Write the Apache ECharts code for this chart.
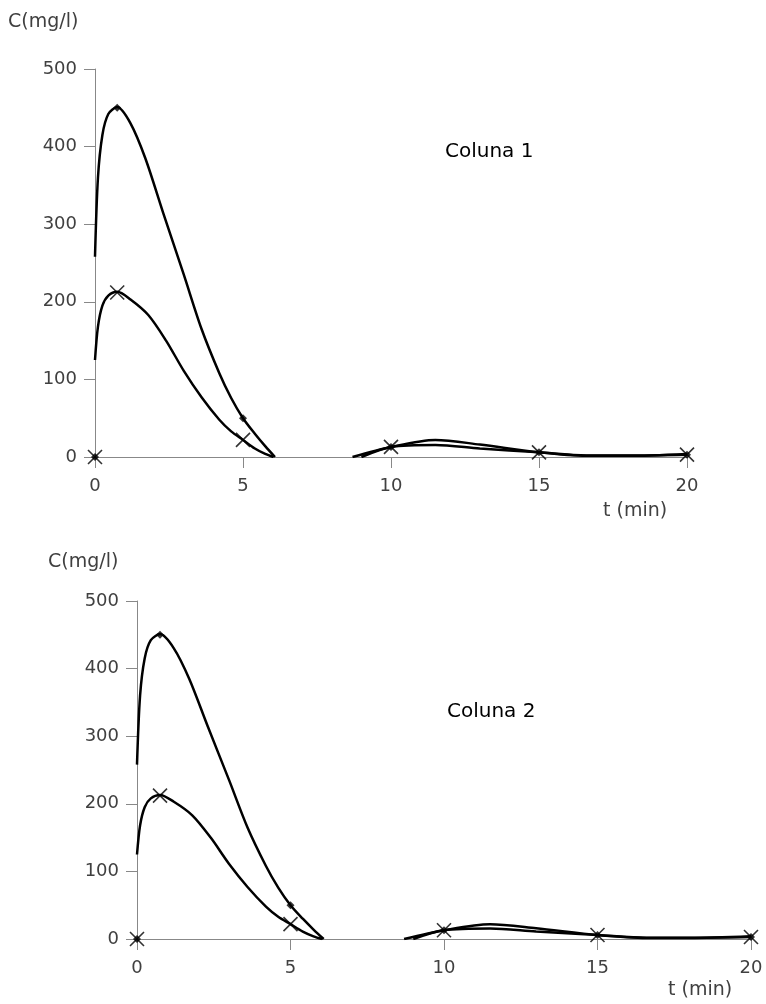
<!DOCTYPE html>
<html lang="pt">
  <head>
    <meta charset="UTF-8" />
    <title>Coluna 1 / Coluna 2</title>
    <script src="https://cdn.jsdelivr.net/npm/echarts@6/dist/echarts.min.js"></script>
    <style>
      html, body { margin: 0; padding: 0; background: #fff; }
      #main { width: 766px; height: 1004px; }
    </style>
  </head>
  <body>
    <div id="main"></div>
    <script>
      // pontos medidos (t em min, C em mg/l)
      const tMarks = [0, 0.75, 5, 10, 15, 20];
      const cDiamond = [0, 450, 50, 13, 6, 3];
      const cCross = [0, 212, 22, 13, 6, 3];

      // curvas suavizadas (cortadas em C = 0)
      const curveA1t = [0, 0.1, 0.25, 0.45, 0.75, 1.2, 1.7, 2.3, 3.0, 3.6, 4.2, 4.6, 5.0, 5.4, 5.75, 6.08];
      const curveA1c = [258, 360, 415, 442, 451, 430, 385, 315, 235, 165, 108, 76, 50, 30, 14, 0];
      const curveA2t = [8.7, 10, 11.5, 13, 15, 16.6, 18, 20];
      const curveA2c = [0, 13, 22, 16, 6, 1.5, 1.5, 4];
      const curveB1t = [0, 0.1, 0.25, 0.45, 0.75, 1.2, 1.8, 2.4, 3.0, 3.6, 4.2, 4.6, 5.0, 5.4, 5.75, 6.03];
      const curveB1c = [125, 168, 195, 208, 213, 203, 183, 150, 111, 77, 48, 33, 22, 11, 4, 0];
      const curveB2t = [9.0, 10, 11.5, 13, 15, 16.6, 18, 20];
      const curveB2c = [0, 13, 15.5, 11, 6, 2, 2, 3];

      const xTicks = [0, 5, 10, 15, 20];
      const yTicks = [0, 100, 200, 300, 400, 500];

      const pairs = (xs, ys) => xs.map((x, i) => [x, ys[i]]);
      const FONT = "DejaVu Sans";
      const crossPath = "path://M0,0L10,10M10,0L0,10";

      const grids = [
        { left: 95, right: 79, top: 69, height: 388 },
        { left: 137, right: 15, top: 601, height: 338 },
      ];

      const axisCommon = {
        type: "value",
        axisLine: { show: true, lineStyle: { color: "#888", width: 1 } },
        axisTick: { show: true, length: 11, lineStyle: { color: "#888", width: 1 } },
        splitLine: { show: false },
        axisLabel: { color: "#404040", fontFamily: FONT, fontSize: 18 },
      };

      const xAxis = grids.map((g, i) => ({
        ...axisCommon,
        gridIndex: i,
        min: xTicks[0],
        max: xTicks[xTicks.length - 1],
        interval: 5,
        axisLabel: { ...axisCommon.axisLabel, margin: 20 },
      }));
      const yAxis = grids.map((g, i) => ({
        ...axisCommon,
        gridIndex: i,
        min: yTicks[0],
        max: yTicks[yTicks.length - 1],
        interval: 100,
        axisLabel: { ...axisCommon.axisLabel, margin: 18 },
      }));

      const series = [];
      grids.forEach((g, i) => {
        [
          pairs(curveA1t, curveA1c),
          pairs(curveA2t, curveA2c),
          pairs(curveB1t, curveB1c),
          pairs(curveB2t, curveB2c),
        ].forEach((d) => {
          series.push({
            type: "line",
            xAxisIndex: i,
            yAxisIndex: i,
            data: d,
            smooth: 0.3,
            showSymbol: false,
            clip: true,
            lineStyle: { color: "#000", width: 2.5 },
            silent: true,
          });
        });
        series.push({
          type: "scatter",
          xAxisIndex: i,
          yAxisIndex: i,
          data: pairs(tMarks, cDiamond),
          symbol: "diamond",
          symbolSize: 8,
          clip: false,
          itemStyle: { color: "#000" },
          z: 5,
        });
        series.push({
          type: "scatter",
          xAxisIndex: i,
          yAxisIndex: i,
          data: pairs(tMarks, cCross),
          symbol: crossPath,
          symbolSize: 14,
          clip: false,
          itemStyle: { color: "transparent", borderColor: "#000", borderWidth: 1.6 },
          z: 5,
        });
      });

      const label = (text, x, y, size, color) => ({
        type: "text",
        x: x,
        y: y,
        style: {
          text: text,
          font: size + "px '" + FONT + "'",
          fill: color,
          verticalAlign: "middle",
        },
      });

      const option = {
        animation: false,
        grid: grids,
        xAxis: xAxis,
        yAxis: yAxis,
        series: series,
        graphic: [
          label("C(mg/l)", 8, 22, 19, "#404040"),
          label("Coluna 1", 445, 152, 20, "#000"),
          label("t (min)", 603, 511, 19, "#404040"),
          label("C(mg/l)", 48, 562, 19, "#404040"),
          label("Coluna 2", 447, 712, 20, "#000"),
          label("t (min)", 668, 990, 19, "#404040"),
        ],
      };

      const myChart = echarts.init(document.getElementById("main"));
      myChart.setOption(option);
    </script>
  </body>
</html>
